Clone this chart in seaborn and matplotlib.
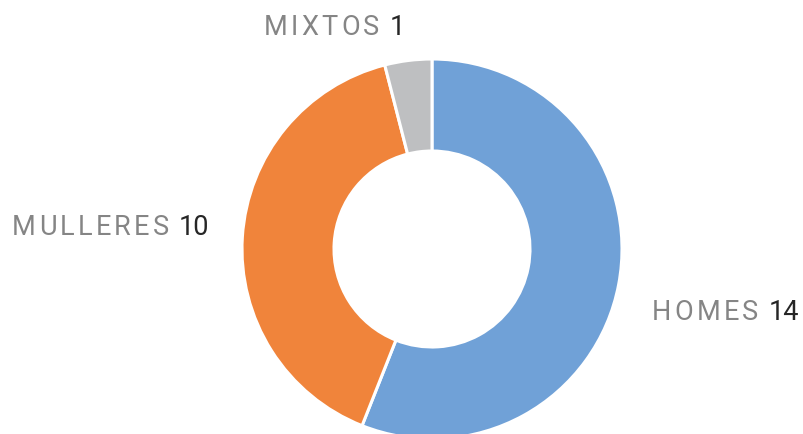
import matplotlib
matplotlib.use("Agg")
import matplotlib.pyplot as plt
import seaborn as sns

categories = ["HOMES", "MULLERES", "MIXTOS"]
values = [14, 10, 1]
colors = ["#70A1D7", "#F0843B", "#BEBFC1"]
# label anchor (left x, baseline y) in pixels from the top-left corner
label_pos = [(652, 320), (12, 235), (264, 35)]

sns.set_theme(style="white")
plt.rcParams["font.family"] = ["Roboto", "DejaVu Sans"]

W, H = 804, 435
fig = plt.figure(figsize=(W / 100, H / 100), dpi=100)
ax = fig.add_axes([0, 0, 1, 1])

ax.pie(values, colors=colors, startangle=90, counterclock=False,
       center=(432, H - 250), radius=190,
       wedgeprops=dict(width=92, edgecolor="white", linewidth=2.2))

# pie() resets the limits, so set the pixel frame afterwards
ax.set_xlim(0, W)
ax.set_ylim(0, H)
ax.set_aspect("equal")
ax.axis("off")

fig.canvas.draw()
renderer = fig.canvas.get_renderer()


def spaced_text(x, y, s, color, tracking):
    # draw characters one by one so the letters get extra spacing
    for ch in s:
        t = ax.text(x, y, ch, color=color, fontsize=19.5, va="baseline", ha="left")
        if ch == " ":
            w = 8
        else:
            w = t.get_window_extent(renderer).width
        x += w + tracking
    return x


for name, val, (lx, ly) in zip(categories, values, label_pos):
    y = H - ly
    x = spaced_text(lx, y, name, "#858585", 3.2)
    ax.text(x + 7, y, str(val), color="#262626", fontsize=19.5, va="baseline", ha="left")

fig.savefig("out.png", dpi=100)
